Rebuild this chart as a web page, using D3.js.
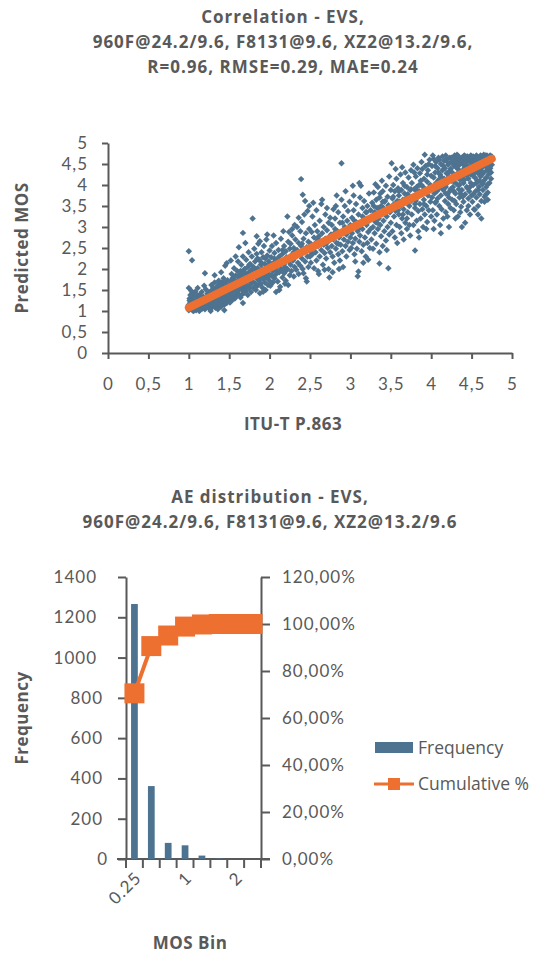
<!DOCTYPE html>
<html>
<head>
<meta charset="utf-8">
<script src="https://cdn.jsdelivr.net/npm/d3@7"></script>
<style>
  html, body { margin: 0; padding: 0; background: #ffffff; }
  svg text { font-family: "Open Sans", sans-serif; fill: #595959; }
  svg text.num { font-family: Lato, "Open Sans", sans-serif; }
</style>
</head>
<body>
<svg id="chart" width="537" height="953"></svg>
<script>
// ---------- Correlation chart data ----------
const scatterTitle = ["Correlation - EVS,", "960F@24.2/9.6, F8131@9.6, XZ2@13.2/9.6,", "R=0.96, RMSE=0.29, MAE=0.24"];
const scatterXLabel = "ITU-T P.863";
const scatterYLabel = "Predicted MOS";
const scatterTicks = [0, 0.5, 1, 1.5, 2, 2.5, 3, 3.5, 4, 4.5, 5];

// linear fit end points [P.863, predicted]
const fitX = [1.0, 4.75];
const fitY = [1.08, 4.62];

// [P.863 MOS, predicted MOS]
const scatterPoints = [
[1.00,1.02],[1.01,1.08],[1.00,1.15],[1.02,1.21],[1.01,1.30],[1.03,1.04],[1.02,1.12],[1.04,1.18],[1.03,1.26],[1.05,1.01],[1.05,1.10],[1.06,1.35],[1.04,1.42],[1.07,1.05],[1.07,1.16],[1.08,1.23],[1.06,1.28],[1.09,1.02],[1.09,1.12],[1.10,1.19],[1.10,1.31],[1.11,1.07],[1.12,1.14],[1.12,1.25],[1.13,1.38],[1.14,1.03],[1.14,1.20],[1.15,1.10],[1.15,1.29],[1.16,1.45],[1.17,1.06],[1.17,1.17],[1.18,1.24],[1.18,1.34],[1.19,1.13],[1.20,1.04],[1.20,1.21],[1.21,1.30],[1.21,1.52],[1.22,1.09],[1.22,1.16],[1.23,1.26],[1.23,1.41],[1.24,1.12],[1.24,1.33],[1.25,1.20],[1.00,2.42],[1.04,2.21],[1.00,1.55],[1.20,1.90],[1.02,1.38],[1.08,1.46],[1.11,1.55],[1.13,1.00],[1.19,1.60],[1.16,1.22],[1.06,1.00],[1.09,1.40],[1.01,1.25],[1.03,1.48],
[1.02,1.16],[1.05,1.24],[1.08,1.30],[1.10,1.05],[1.13,1.22],[1.15,1.36],[1.18,1.08],[1.21,1.18],[1.24,1.28],[1.26,1.20],[1.29,1.34],[1.31,1.25],[1.34,1.40],[1.36,1.18],[1.39,1.42],[1.41,1.24],[1.43,1.55],[1.46,1.34],[1.48,1.52],[1.50,1.28],[1.35,1.58],[1.30,1.45],[1.25,1.45],[1.38,1.65],[1.42,1.70],
[1.26,1.05],[1.26,1.38],[1.27,1.14],[1.27,1.27],[1.28,1.48],[1.28,1.62],[1.29,1.09],[1.29,1.22],[1.30,1.33],[1.30,1.55],[1.31,1.17],[1.31,1.42],[1.32,1.28],[1.32,1.68],[1.33,1.08],[1.33,1.36],[1.34,1.20],[1.34,1.50],[1.35,1.12],[1.35,1.30],[1.36,1.44],[1.36,1.60],[1.37,1.24],[1.37,1.72],[1.38,1.16],[1.38,1.38],[1.39,1.52],[1.39,1.29],[1.40,1.10],[1.40,1.46],[1.41,1.35],[1.41,1.63],[1.42,1.22],[1.42,1.56],[1.43,1.42],[1.43,1.78],[1.44,1.15],[1.44,1.31],[1.45,1.50],[1.45,1.66],[1.46,1.26],[1.46,1.40],[1.47,1.58],[1.47,1.19],[1.48,1.34],[1.48,1.73],[1.49,1.47],[1.49,1.28],[1.50,1.62],[1.50,1.38],[1.32,1.85],[1.40,1.92],[1.45,2.08],[1.27,1.00],[1.36,1.04],[1.44,1.02],[1.47,2.14],
[1.51,1.20],[1.51,1.52],[1.52,1.70],[1.52,1.33],[1.53,1.45],[1.53,1.88],[1.54,1.26],[1.54,1.60],[1.55,1.40],[1.55,1.76],[1.56,1.52],[1.56,2.02],[1.57,1.30],[1.57,1.66],[1.58,1.46],[1.58,1.84],[1.59,1.58],[1.59,1.36],[1.60,1.72],[1.60,1.95],[1.61,1.48],[1.61,2.18],[1.62,1.62],[1.62,1.40],[1.63,1.80],[1.63,1.55],[1.64,1.95],[1.64,1.32],[1.65,1.68],[1.65,2.10],[1.66,1.50],[1.66,1.86],[1.67,1.62],[1.67,2.30],[1.68,1.42],[1.68,1.76],[1.69,2.00],[1.69,1.55],[1.70,1.90],[1.70,1.70],[1.71,1.48],[1.71,2.22],[1.72,1.82],[1.72,1.60],[1.73,2.05],[1.73,1.38],[1.74,1.72],[1.74,2.40],[1.75,1.92],[1.75,1.55],[1.67,2.86],[1.67,1.19],[1.62,2.52],[1.70,2.62],[1.58,2.30],[1.52,2.20],
[1.52,1.60],[1.54,1.78],[1.56,1.42],[1.58,1.66],[1.60,1.52],[1.62,1.85],[1.64,1.70],[1.66,1.40],[1.68,1.95],[1.70,1.60],[1.72,1.72],[1.74,1.85],[1.76,1.95],[1.78,1.68],[1.80,1.82],[1.82,2.00],[1.84,1.62],[1.86,1.96],[1.88,1.80],[1.90,2.15],[1.92,1.95],[1.94,1.80],[1.96,1.92],[1.98,2.08],[2.00,1.85],[2.02,2.10],[2.04,1.82],[2.06,2.25],[2.08,2.05],[2.10,1.92],[2.12,2.18],[2.14,2.00],[2.16,2.45],[2.18,2.12],[2.20,1.95],[1.85,2.25],[1.95,2.25],[1.75,2.10],[1.65,1.58],[1.55,1.62],
[1.76,1.62],[1.76,2.12],[1.77,1.80],[1.77,1.45],[1.78,1.98],[1.78,2.30],[1.79,1.70],[1.79,3.20],[1.80,1.55],[1.80,2.05],[1.81,1.88],[1.81,2.48],[1.82,1.66],[1.82,2.18],[1.83,1.92],[1.83,1.50],[1.84,1.78],[1.84,2.36],[1.85,2.02],[1.85,1.60],[1.86,1.85],[1.86,2.60],[1.87,1.72],[1.87,2.22],[1.88,1.95],[1.88,1.42],[1.89,2.10],[1.89,1.65],[1.90,1.82],[1.90,2.40],[1.91,2.00],[1.91,1.56],[1.92,1.76],[1.92,2.28],[1.93,1.90],[1.93,2.55],[1.94,1.68],[1.94,2.12],[1.95,1.85],[1.95,1.50],[1.96,2.05],[1.96,2.70],[1.97,1.78],[1.97,2.32],[1.98,1.95],[1.98,1.62],[1.99,2.18],[1.99,1.88],[2.00,2.44],[2.00,1.72],[1.84,2.78],[1.92,1.46],[1.97,2.82],[1.88,2.66],
[2.01,2.02],[2.01,1.60],[2.02,2.28],[2.02,1.85],[2.03,2.55],[2.04,1.95],[2.04,1.68],[2.05,2.15],[2.06,2.38],[2.06,1.78],[2.07,2.00],[2.08,2.62],[2.08,1.88],[2.09,2.22],[2.10,1.70],[2.10,2.08],[2.11,2.45],[2.12,1.92],[2.12,2.30],[2.13,1.58],[2.14,2.12],[2.14,2.72],[2.15,1.98],[2.16,2.36],[2.16,1.80],[2.17,2.20],[2.18,2.55],[2.18,1.90],[2.19,2.05],[2.20,2.42],[2.20,1.72],[2.21,2.28],[2.22,3.25],[2.22,2.00],[2.23,2.65],[2.23,1.62],[2.24,2.18],[2.25,2.48],[2.25,1.85],[2.05,2.80],[2.17,2.90],[2.12,1.50],[2.24,2.88],[2.08,1.45],[2.19,1.65],
[2.26,2.10],[2.26,2.60],[2.27,1.95],[2.28,2.35],[2.28,2.80],[2.29,2.20],[2.30,2.50],[2.30,1.82],[2.31,2.05],[2.32,2.70],[2.32,2.28],[2.33,1.98],[2.34,2.45],[2.34,3.00],[2.35,2.15],[2.36,2.62],[2.36,1.88],[2.37,2.38],[2.38,2.90],[2.38,2.08],[2.39,4.14],[2.39,2.55],[2.40,2.25],[2.40,3.12],[2.41,3.77],[2.41,2.00],[2.42,2.72],[2.43,2.40],[2.43,3.30],[2.44,2.18],[2.45,2.85],[2.45,1.78],[2.46,2.52],[2.47,3.38],[2.47,2.30],[2.48,2.65],[2.48,2.05],[2.49,2.95],[2.49,3.50],[2.50,2.42],[2.44,3.62],[2.42,1.90],[2.36,3.22],[2.31,3.05],[2.46,1.70],[2.28,2.95],
[2.30,2.40],[2.40,2.60],[2.50,2.30],[2.55,2.55],[2.60,2.70],[2.70,2.60],[2.80,2.85],[2.85,2.60],[2.90,3.10],[3.00,2.90],[3.05,3.15],[3.10,2.95],[3.15,3.25],[3.20,3.35],[3.30,3.20],[3.35,3.45],[3.40,3.60],[3.45,3.35],[3.55,3.50],[3.60,3.85],[3.65,3.30],[3.70,3.70],[3.75,3.90],[3.80,3.55],[3.85,3.85],
[2.51,2.60],[2.51,2.15],[2.52,2.88],[2.53,2.35],[2.53,3.25],[2.54,2.50],[2.55,2.02],[2.55,2.75],[2.56,3.05],[2.57,2.40],[2.57,2.62],[2.58,3.40],[2.58,2.20],[2.59,2.90],[2.60,2.55],[2.60,1.95],[2.61,2.78],[2.62,3.15],[2.62,2.30],[2.63,2.65],[2.64,3.55],[2.64,2.45],[2.65,3.65],[2.65,2.85],[2.66,2.10],[2.67,2.58],[2.67,3.00],[2.68,2.38],[2.69,3.30],[2.69,2.72],[2.70,2.25],[2.71,2.92],[2.71,3.45],[2.72,2.50],[2.73,2.00],[2.73,3.10],[2.74,2.68],[2.74,1.80],[2.75,2.40],[2.75,3.22],[2.61,1.88],[2.54,3.58],[2.68,1.98],
[2.76,2.82],[2.77,2.55],[2.77,3.05],[2.78,2.30],[2.79,3.42],[2.79,2.70],[2.80,2.15],[2.81,2.95],[2.81,3.20],[2.82,2.48],[2.83,3.75],[2.83,2.62],[2.84,2.90],[2.85,2.35],[2.85,3.35],[2.86,2.75],[2.87,3.10],[2.87,2.20],[2.88,2.58],[2.89,4.52],[2.89,3.65],[2.89,2.88],[2.90,2.42],[2.91,3.25],[2.91,2.05],[2.92,2.70],[2.93,3.00],[2.93,3.50],[2.94,2.55],[2.95,2.82],[2.95,2.30],[2.96,3.15],[2.97,2.65],[2.97,3.38],[2.98,2.92],[2.99,2.45],[2.99,3.60],[3.00,2.75],[3.00,3.05],[2.78,1.92],[2.86,2.00],[2.94,3.85],[2.82,3.50],
[3.01,2.50],[3.02,3.22],[3.02,2.85],[3.03,3.98],[3.03,2.62],[3.04,3.40],[3.05,2.35],[3.05,3.00],[3.06,2.72],[3.07,3.55],[3.07,3.12],[3.08,2.48],[3.09,1.83],[3.09,2.90],[3.10,1.94],[3.10,3.30],[3.11,2.65],[3.12,3.70],[3.12,2.80],[3.13,3.98],[3.13,3.05],[3.14,2.42],[3.15,3.45],[3.15,2.95],[3.16,2.58],[3.17,3.20],[3.17,3.62],[3.18,2.75],[3.19,3.35],[3.19,2.30],[3.20,3.05],[3.21,2.62],[3.21,3.50],[3.22,2.88],[3.23,3.80],[3.23,3.15],[3.24,2.50],[3.25,3.40],[3.25,2.95],[3.06,2.18],[3.16,2.15],[3.11,4.05],[3.22,2.22],[3.04,3.75],
[3.26,3.25],[3.26,2.70],[3.27,3.58],[3.28,3.00],[3.28,2.48],[3.29,3.82],[3.30,3.35],[3.30,2.85],[3.31,3.12],[3.32,3.65],[3.32,2.60],[3.33,3.45],[3.34,2.95],[3.34,3.95],[3.35,3.20],[3.36,2.40],[3.36,3.70],[3.37,3.05],[3.38,3.50],[3.38,2.78],[3.39,4.10],[3.39,3.30],[3.40,2.55],[3.40,3.85],[3.41,3.15],[3.42,3.60],[3.42,2.90],[3.43,3.40],[3.44,3.98],[3.44,2.68],[3.45,3.25],[3.46,3.72],[3.46,3.00],[3.47,2.02],[3.47,3.52],[3.48,2.82],[3.48,4.20],[3.49,3.35],[3.50,3.88],[3.50,3.10],[3.36,2.13],[3.31,4.02],[3.45,2.45],[3.33,3.10],[3.41,3.45],[3.29,3.50],[3.37,3.80],[3.43,3.62],
[3.51,4.52],[3.51,3.45],[3.52,2.90],[3.52,3.68],[3.53,4.00],[3.54,3.25],[3.54,3.55],[3.55,2.75],[3.55,3.85],[3.56,3.38],[3.57,4.15],[3.57,3.05],[3.58,3.62],[3.58,2.62],[3.59,3.92],[3.60,3.30],[3.60,3.75],[3.61,3.00],[3.62,4.25],[3.62,3.50],[3.63,2.85],[3.63,3.88],[3.64,3.20],[3.65,3.65],[3.65,4.05],[3.66,2.70],[3.66,3.42],[3.67,3.80],[3.68,3.10],[3.68,4.30],[3.69,3.58],[3.70,2.95],[3.70,3.95],[3.71,3.35],[3.72,3.72],[3.72,4.18],[3.73,3.05],[3.73,3.50],[3.74,3.88],[3.74,2.80],[3.75,4.35],[3.75,3.62],[3.56,4.38],[3.64,4.42],[3.70,3.20],[3.61,3.60],[3.67,3.98],[3.53,3.72],[3.59,3.40],[3.71,3.78],
[3.76,3.30],[3.76,4.05],[3.77,3.70],[3.78,4.48],[3.78,3.05],[3.79,3.90],[3.80,2.44],[3.80,3.45],[3.81,4.20],[3.81,3.62],[3.82,3.15],[3.83,3.85],[3.83,4.40],[3.84,3.38],[3.84,2.90],[3.85,4.00],[3.86,3.55],[3.86,4.28],[3.87,3.20],[3.88,3.78],[3.88,4.55],[3.89,3.42],[3.90,3.95],[3.90,3.00],[3.91,4.15],[3.91,3.65],[3.92,4.72],[3.92,3.30],[3.93,3.88],[3.93,4.45],[3.94,3.50],[3.95,4.08],[3.95,3.12],[3.96,3.75],[3.96,4.35],[3.97,3.40],[3.98,3.92],[3.98,4.60],[3.99,3.60],[4.00,4.22],[4.00,3.25],[3.85,2.75],[3.94,2.95],[3.79,4.30],[3.87,4.10],[3.97,4.50],[3.82,3.95],[3.89,4.38],[3.99,4.00],[3.84,3.72],[3.96,3.85],[3.91,3.55],
[4.01,3.70],[4.01,4.45],[4.02,3.95],[4.02,3.40],[4.03,4.18],[4.03,4.62],[4.04,3.80],[4.04,3.15],[4.05,4.30],[4.05,3.58],[4.06,4.05],[4.06,4.55],[4.07,3.85],[4.07,3.30],[4.08,4.40],[4.08,3.68],[4.09,4.12],[4.09,4.65],[4.10,3.92],[4.10,3.50],[4.11,4.25],[4.11,3.05],[4.12,4.50],[4.12,3.75],[4.13,4.00],[4.13,3.42],[4.14,4.35],[4.14,4.68],[4.15,3.88],[4.15,3.20],[4.16,4.15],[4.16,4.58],[4.17,3.62],[4.17,4.40],[4.18,3.95],[4.18,3.35],[4.19,4.28],[4.19,4.62],[4.20,3.78],[4.20,4.05],[4.21,4.48],[4.21,3.55],[4.22,4.20],[4.22,3.00],[4.23,4.65],[4.23,3.85],[4.24,4.38],[4.24,3.45],[4.25,4.10],[4.25,4.55],[4.03,2.95],[4.12,2.85],[4.20,3.25],[4.06,3.60],[4.14,3.98],[4.22,3.70],[4.09,4.30],[4.18,4.70],[4.02,4.70],[4.24,3.90],
[4.05,4.45],[4.10,4.60],[4.15,4.45],[4.20,4.55],[4.25,4.65],[4.30,4.62],[4.35,4.60],[4.40,4.68],[4.45,4.58],[4.50,4.68],[4.55,4.52],[4.60,4.60],[4.65,4.65],[4.70,4.62],[4.12,4.20],[4.22,4.32],[4.32,4.18],[4.42,4.35],[4.52,4.22],[4.62,4.32],[4.72,4.35],[4.36,3.80],[4.48,3.95],[4.58,3.88],[4.68,3.78],[4.28,3.85],[4.18,3.80],[3.95,4.25],[3.88,4.00],[3.80,3.75],
[4.26,3.65],[4.26,4.30],[4.27,4.62],[4.27,3.95],[4.28,4.45],[4.28,3.40],[4.29,4.15],[4.29,4.70],[4.30,3.80],[4.30,4.52],[4.31,4.25],[4.31,3.55],[4.32,4.60],[4.32,4.02],[4.33,4.38],[4.33,3.25],[4.34,3.90],[4.34,4.68],[4.35,4.48],[4.35,3.70],[4.36,4.12],[4.36,4.58],[4.37,3.48],[4.37,4.32],[4.38,4.65],[4.38,3.88],[4.39,4.20],[4.39,4.50],[4.40,3.60],[4.40,4.05],[4.41,4.70],[4.41,4.40],[4.42,3.10],[4.42,3.78],[4.43,4.28],[4.43,4.58],[4.44,3.95],[4.44,3.40],[4.45,4.45],[4.45,4.68],[4.46,4.15],[4.46,3.68],[4.47,4.60],[4.47,3.85],[4.48,4.35],[4.48,3.30],[4.49,4.05],[4.49,4.70],[4.50,4.52],[4.50,3.75],[4.28,4.08],[4.32,4.72],[4.36,3.35],[4.40,4.62],[4.44,4.22],[4.48,4.55],[4.30,3.20],[4.35,4.00],[4.46,3.50],[4.38,3.00],[4.42,4.48],[4.27,4.18],[4.33,4.50],[4.39,3.72],[4.45,3.92],[4.49,4.25],[4.31,4.42],[4.47,4.38],[4.34,4.30],[4.41,4.12],[4.29,3.62],[4.37,4.55],[4.43,4.68],[4.26,4.55],[4.50,4.62],
[4.51,4.30],[4.51,3.60],[4.52,4.68],[4.52,4.00],[4.53,4.45],[4.53,3.42],[4.54,4.18],[4.54,4.62],[4.55,3.85],[4.55,4.38],[4.56,4.70],[4.56,3.70],[4.57,4.10],[4.57,4.55],[4.58,3.50],[4.58,4.28],[4.59,4.65],[4.59,3.95],[4.60,4.48],[4.60,3.78],[4.61,4.20],[4.61,4.70],[4.62,3.62],[4.62,4.40],[4.63,4.60],[4.63,4.02],[4.64,3.88],[4.64,4.52],[4.65,4.30],[4.65,4.72],[4.66,3.72],[4.66,4.12],[4.67,4.62],[4.67,4.45],[4.68,4.17],[4.68,3.95],[4.69,4.70],[4.69,4.35],[4.70,4.55],[4.70,3.82],[4.71,4.65],[4.71,4.25],[4.72,4.50],[4.72,4.05],[4.73,4.70],[4.73,4.40],[4.74,4.60],[4.74,4.15],[4.75,4.68],[4.75,4.48],[4.54,3.41],[4.58,3.30],[4.62,3.20],[4.53,4.58],[4.57,4.42],[4.61,4.58],[4.65,4.45],[4.69,4.55],[4.73,4.58],[4.55,4.65],[4.59,4.35],[4.63,4.25],[4.67,4.70],[4.71,4.42],[4.56,4.05],[4.60,4.10],[4.64,4.05],[4.52,3.78],[4.66,3.60],[4.70,4.02],[4.74,4.30],[4.58,4.62],[4.62,4.68],[4.66,4.58],[4.72,4.68],[4.54,4.30],[4.50,4.40],[4.70,3.65],[4.75,4.60]
];

// ---------- Absolute error distribution data ----------
const histTitle = ["AE distribution - EVS,", "960F@24.2/9.6, F8131@9.6, XZ2@13.2/9.6"];
const binLabels = ["0.25", "0.5", "0.75", "1", "1.25", "1.5", "2", "2.5"];
const shownBinLabels = ["0.25", "1", "2"];
const frequency = [1266, 362, 80, 68, 17, 3, 0, 0];
const cumulativePct = [70.5, 90.6, 95.1, 98.9, 99.8, 100, 100, 100];
const freqTicks = [0, 200, 400, 600, 800, 1000, 1200, 1400];
const pctTicks = [0, 20, 40, 60, 80, 100, 120];
const seriesNames = ["Frequency", "Cumulative %"];

// ---------- drawing ----------
const svg = d3.select("#chart");
const ink = "#595959";
const blue = "#4E7390";
const orange = "#EE7031";

function boldText(sel) {
  return sel.style("font-size", "17px").style("font-weight", "700").style("letter-spacing", "0.5px");
}

function drawTitle(lines, cx, firstBaseline, step) {
  svg.append("g").selectAll("text").data(lines).join("text")
    .attr("x", cx)
    .attr("y", (d, i) => firstBaseline + i * step)
    .attr("text-anchor", "middle")
    .call(boldText)
    .style("letter-spacing", "1px")
    .text(d => d);
}

function styleAxis(g) {
  g.select(".domain").attr("stroke", ink).attr("stroke-width", 2);
  g.selectAll(".tick line").attr("stroke", ink).attr("stroke-width", 2);
  g.selectAll(".tick text").attr("class", "num")
    .style("font-size", "17px").style("letter-spacing", "1px").attr("fill", ink);
}

// ===== Scatter =====
drawTitle(scatterTitle, 283, 23, 25);

const sx = d3.scaleLinear().domain([0, 5]).range([108, 512]);
const sy = d3.scaleLinear().domain([0, 5]).range([353, 143]);
const commaFmt = d => String(d).replace(".", ",");

svg.append("g")
  .attr("transform", "translate(0,353)")
  .call(d3.axisBottom(sx).tickValues(scatterTicks).tickSize(6).tickSizeOuter(0).tickPadding(19).tickFormat(commaFmt))
  .call(styleAxis);

svg.append("g")
  .attr("transform", "translate(108,0)")
  .call(d3.axisLeft(sy).tickValues(scatterTicks).tickSize(6).tickSizeOuter(0).tickPadding(14).tickFormat(commaFmt))
  .call(styleAxis);

const diamond = d3.symbol().type(d3.symbolSquare).size(21)();
svg.append("g").selectAll("path").data(scatterPoints).join("path")
  .attr("d", diamond)
  .attr("transform", d => `translate(${sx(d[0])},${sy(d[1])}) rotate(45)`)
  .attr("fill", blue);

svg.append("path")
  .datum(d3.zip(fitX, fitY))
  .attr("d", d3.line().x(d => sx(d[0])).y(d => sy(d[1])))
  .attr("stroke", orange)
  .attr("stroke-width", 8)
  .attr("stroke-linecap", "round")
  .attr("fill", "none");

svg.append("text")
  .attr("transform", "translate(28,248) rotate(-90)")
  .attr("text-anchor", "middle")
  .call(boldText)
  .text(scatterYLabel);

svg.append("text")
  .attr("x", 293).attr("y", 430)
  .attr("text-anchor", "middle")
  .call(boldText)
  .text(scatterXLabel);

// ===== Histogram with cumulative line =====
drawTitle(histTitle, 270, 503, 25);

const hx = d3.scaleBand().domain(binLabels).range([126, 261]);
const hy = d3.scaleLinear().domain([0, 1400]).range([859, 577]);
const hy2 = d3.scaleLinear().domain([0, 120]).range([859, 577]);

// category ticks at band edges
const edges = binLabels.map(b => hx(b)).concat([hx.range()[1]]);
svg.append("g").selectAll("line").data(edges).join("line")
  .attr("x1", d => d).attr("x2", d => d)
  .attr("y1", 859).attr("y2", 868)
  .attr("stroke", ink).attr("stroke-width", 2);
svg.append("line")
  .attr("x1", 117).attr("x2", 270).attr("y1", 859).attr("y2", 859)
  .attr("stroke", ink).attr("stroke-width", 2);

const leftAxis = svg.append("g")
  .attr("transform", "translate(126,0)")
  .call(d3.axisLeft(hy).tickValues(freqTicks).tickSize(8).tickSizeOuter(0).tickPadding(21).tickFormat(d => String(d)))
  .call(styleAxis);
leftAxis.selectAll(".tick text").attr("dx", d => ({4: 0, 3: 6, 1: 11})[String(d).length] || 0);

svg.append("g")
  .attr("transform", "translate(261,0)")
  .call(d3.axisRight(hy2).tickValues(pctTicks).tickSize(9).tickSizeOuter(0).tickPadding(12)
    .tickFormat(d => d3.format(".2f")(d).replace(".", ",") + "%"))
  .call(styleAxis);

const barW = hx.bandwidth() * 0.4;
svg.append("g").selectAll("rect").data(frequency).join("rect")
  .attr("x", (d, i) => hx(binLabels[i]) + hx.bandwidth() / 2 - barW / 2)
  .attr("y", d => hy(d))
  .attr("width", barW)
  .attr("height", d => 859 - hy(d))
  .attr("fill", blue);

const cumPts = cumulativePct.map((v, i) => [hx(binLabels[i]) + hx.bandwidth() / 2, hy2(v)]);
svg.append("path")
  .datum(cumPts)
  .attr("d", d3.line())
  .attr("stroke", orange).attr("stroke-width", 4).attr("fill", "none");
svg.append("g").selectAll("rect").data(cumPts).join("rect")
  .attr("x", d => d[0] - 10).attr("y", d => d[1] - 10)
  .attr("width", 20).attr("height", 20)
  .attr("fill", orange);

// category labels (every third shown), rotated
svg.append("g").selectAll("text").data(shownBinLabels).join("text")
  .attr("class", "num")
  .attr("transform", d => `translate(${hx(d) + hx.bandwidth() / 2 + 8},${879}) rotate(-45)`)
  .attr("text-anchor", "end")
  .style("font-size", "17px").style("letter-spacing", "1px")
  .text(d => d);

svg.append("text")
  .attr("transform", "translate(28,718) rotate(-90)")
  .attr("text-anchor", "middle")
  .call(boldText)
  .text("Frequency");

svg.append("text")
  .attr("x", 190).attr("y", 949)
  .attr("text-anchor", "middle")
  .call(boldText)
  .text("MOS Bin");

// legend
const lg = svg.append("g");
lg.append("rect").attr("x", 375).attr("y", 742).attr("width", 38).attr("height", 11).attr("fill", blue);
lg.append("text").attr("x", 418).attr("y", 754).style("font-size", "17.5px").text(seriesNames[0]);
lg.append("line").attr("x1", 374).attr("x2", 414).attr("y1", 784).attr("y2", 784)
  .attr("stroke", orange).attr("stroke-width", 3);
lg.append("rect").attr("x", 388).attr("y", 778).attr("width", 12).attr("height", 12).attr("fill", orange);
lg.append("text").attr("x", 418).attr("y", 790).style("font-size", "17.5px").text(seriesNames[1]);
</script>
</body>
</html>
